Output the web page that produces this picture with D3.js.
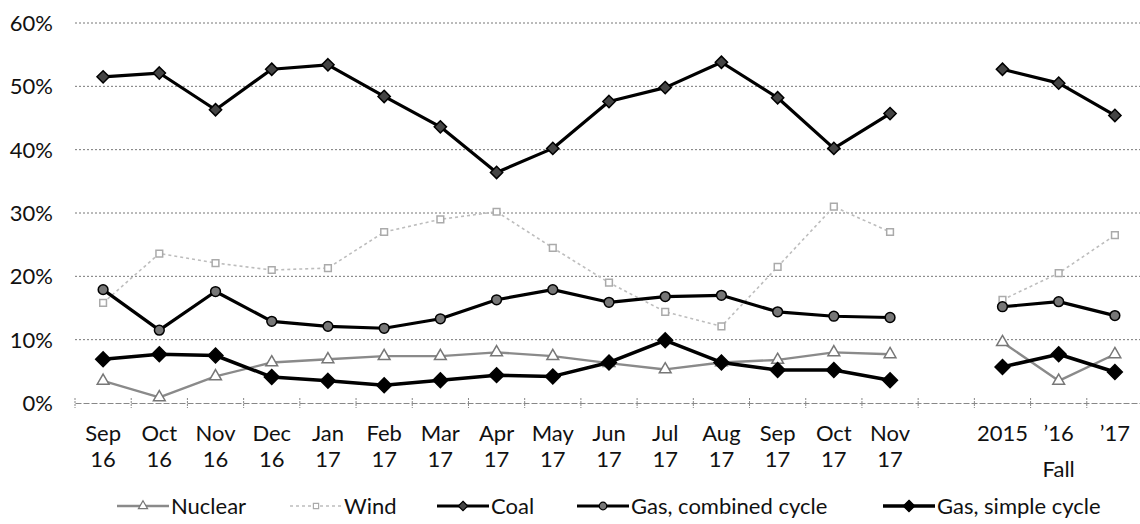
<!DOCTYPE html>
<html>
<head>
<meta charset="utf-8">
<script src="https://cdn.jsdelivr.net/npm/d3@7"></script>
<style>
  body { margin: 0; background: #fff; }
  text { font-family: Lato, "Open Sans", sans-serif; fill: #111; }
</style>
</head>
<body>
<svg id="chart" width="1140" height="524"></svg>
<script>
"use strict";
// categories (one empty slot separates the monthly run from the fall averages)
const categories = ["Sep16", "Oct16", "Nov16", "Dec16", "Jan17", "Feb17", "Mar17", "Apr17", "May17",
    "Jun17", "Jul17", "Aug17", "Sep17", "Oct17", "Nov17", "gap", "F2015", "F2016", "F2017"];
const monthLabels = ["Sep", "Oct", "Nov", "Dec", "Jan", "Feb", "Mar", "Apr", "May",
    "Jun", "Jul", "Aug", "Sep", "Oct", "Nov", "", "2015", "\u201916", "\u201917"];
const yearLabels = ["16", "16", "16", "16", "17", "17", "17", "17", "17",
    "17", "17", "17", "17", "17", "17", "", "", "", ""];
const groupLabel = "Fall";
const yTicks = [0, 10, 20, 30, 40, 50, 60];

// shares in percent
const nuclear = [3.5, 0.9, 4.2, 6.4, 6.9, 7.4, 7.4, 8.0, 7.4, 6.3, 5.3, 6.4, 6.8, 8.0, 7.7, null, 9.6, 3.5, 7.7];
const wind = [15.8, 23.6, 22.1, 21.0, 21.3, 27.0, 29.0, 30.2, 24.5, 19.0, 14.4, 12.1, 21.5, 31.0, 27.0, null, 16.3, 20.5, 26.5];
const coal = [51.5, 52.1, 46.3, 52.7, 53.4, 48.4, 43.6, 36.4, 40.2, 47.6, 49.8, 53.8, 48.2, 40.2, 45.7, null, 52.7, 50.5, 45.4];
const gasCombined = [17.9, 11.5, 17.6, 12.9, 12.1, 11.8, 13.3, 16.3, 17.9, 15.9, 16.8, 17.0, 14.4, 13.7, 13.5, null, 15.2, 16.0, 13.8];
const gasSimple = [6.9, 7.7, 7.5, 4.1, 3.5, 2.8, 3.6, 4.4, 4.2, 6.4, 9.9, 6.4, 5.2, 5.2, 3.6, null, 5.7, 7.7, 4.9];

const seriesNames = ["Nuclear", "Wind", "Coal", "Gas, combined cycle", "Gas, simple cycle"];

const svg = d3.select("#chart");
const x = d3.scaleBand().domain(categories).range([75, 1143]);
const y = d3.scaleLinear().domain([0, 60]).range([403, 23]);
const cx = k => x(k) + x.bandwidth() / 2;

// gridlines
svg.append("g").selectAll("line").data(yTicks.filter(t => t > 0)).join("line")
    .attr("x1", 75).attr("x2", 1140)
    .attr("y1", d => y(d)).attr("y2", d => y(d))
    .attr("stroke", "#777").attr("stroke-width", 1).attr("stroke-dasharray", "2,2");

// y labels
svg.append("g").selectAll("text").data(yTicks).join("text")
    .attr("x", 53).attr("y", d => y(d)).attr("dy", "0.36em")
    .attr("text-anchor", "end").style("font-size", "22px")
    .text(d => d + "%");

// baseline axis with small ticks between categories
const xAxis = d3.axisBottom(x).tickSize(0).tickFormat("");
const axisG = svg.append("g").attr("transform", `translate(0,${y(0)})`).call(xAxis);
axisG.select(".domain").attr("stroke", "#888").attr("stroke-dasharray", "6,2");
svg.append("g").selectAll("line").data(categories.concat(["end"])).join("line")
    .attr("x1", (d, i) => 75 + i * x.step()).attr("x2", (d, i) => 75 + i * x.step())
    .attr("y1", y(0) - 5).attr("y2", y(0) + 5)
    .attr("stroke", "#888").attr("stroke-width", 1).attr("stroke-dasharray", "2,1");

// x labels
const labG = svg.append("g").style("font-size", "22px").attr("text-anchor", "middle");
labG.selectAll(".m").data(categories).join("text").attr("class", "m")
    .attr("x", cx).attr("y", 441).text((d, i) => monthLabels[i]);
labG.selectAll(".yr").data(categories).join("text").attr("class", "yr")
    .attr("x", cx).attr("y", 467).text((d, i) => yearLabels[i]);
labG.append("text").attr("x", cx("F2016")).attr("y", 477).text(groupLabel);

// a square turned 45 degrees, as in the original markers
const rhomb = {
    draw(ctx, size) {
        const r = Math.sqrt(size / 2);
        ctx.moveTo(0, -r); ctx.lineTo(r, 0); ctx.lineTo(0, r); ctx.lineTo(-r, 0); ctx.closePath();
    }
};

// series styles
const styles = {
    "Wind": { data: wind, stroke: "#bdbdbd", width: 1.6, dash: "3,3", symbol: d3.symbolSquare, size: 45, fill: "#fff", mstroke: "#aaa" },
    "Nuclear": { data: nuclear, stroke: "#8a8a8a", width: 2.4, dash: null, symbol: d3.symbolTriangle, size: 60, fill: "#fff", mstroke: "#777" },
    "Gas, simple cycle": { data: gasSimple, stroke: "#000", width: 3.5, dash: null, symbol: rhomb, size: 110, fill: "#000", mstroke: "#000" },
    "Gas, combined cycle": { data: gasCombined, stroke: "#000", width: 3.2, dash: null, symbol: d3.symbolCircle, size: 75, fill: "#777", mstroke: "#000" },
    "Coal": { data: coal, stroke: "#000", width: 3.2, dash: null, symbol: rhomb, size: 75, fill: "#444", mstroke: "#000" }
};
const drawOrder = ["Wind", "Nuclear", "Gas, simple cycle", "Gas, combined cycle", "Coal"];

const line = d3.line()
    .defined(d => d.v != null)
    .x(d => cx(d.k)).y(d => y(d.v));

drawOrder.forEach(name => {
    const s = styles[name];
    const pts = categories.map((k, i) => ({ k: k, v: s.data[i] }));
    const g = svg.append("g");
    g.append("path").datum(pts).attr("d", line)
        .attr("fill", "none").attr("stroke", s.stroke).attr("stroke-width", s.width)
        .attr("stroke-dasharray", s.dash).attr("stroke-linejoin", "round");
    g.selectAll("path.mk").data(pts.filter(d => d.v != null)).join("path").attr("class", "mk")
        .attr("d", d3.symbol().type(s.symbol).size(s.size))
        .attr("transform", d => `translate(${cx(d.k)},${y(d.v)})`)
        .attr("fill", s.fill).attr("stroke", s.mstroke).attr("stroke-width", 1.5);
});

// legend
const legendX = [117, 290, 437, 577, 883];
const legend = svg.append("g").attr("transform", "translate(0,506)");
seriesNames.forEach((name, i) => {
    const s = styles[name];
    const g = legend.append("g").attr("transform", `translate(${legendX[i]},0)`);
    g.append("line").attr("x1", 0).attr("x2", 52).attr("y1", 0).attr("y2", 0)
        .attr("stroke", s.stroke).attr("stroke-width", s.width).attr("stroke-dasharray", s.dash);
    g.append("path").attr("d", d3.symbol().type(s.symbol).size(s.size * 0.6))
        .attr("transform", "translate(26,0)")
        .attr("fill", s.fill).attr("stroke", s.mstroke).attr("stroke-width", 1.2);
    g.append("text").attr("x", 54).attr("dy", "0.36em").style("font-size", "22px").text(name);
});
</script>
</body>
</html>
